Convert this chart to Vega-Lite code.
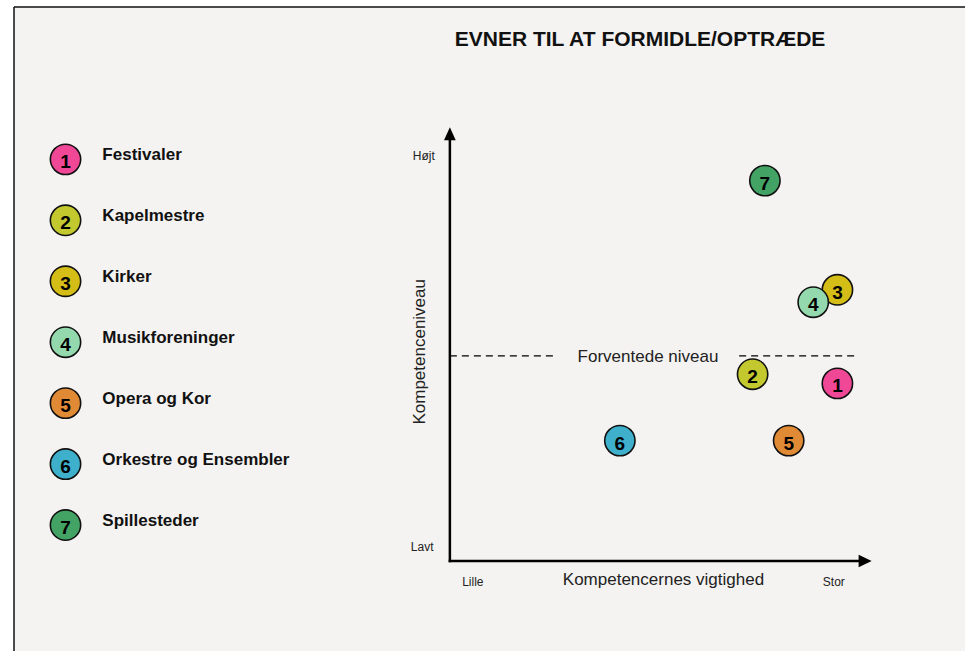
{
  "$schema": "https://vega.github.io/schema/vega-lite/v6.json",
  "width": 951,
  "height": 644,
  "autosize": {"type": "none"},
  "padding": {"left": 14, "top": 7, "right": 0, "bottom": 0},
  "background": "#ffffff",
  "config": {
    "view": {"fill": "#f4f3f1", "stroke": null},
    "font": "Liberation Sans",
    "axis": {"disable": true},
    "text": {"font": "Liberation Sans", "color": "#111111"}
  },
  "data": {"values": [{}]},
  "datasets": {
    "aktorer": [
      {"nr": 1, "navn": "Festivaler", "vigtighed": 9.78, "niveau": 4.44},
      {"nr": 2, "navn": "Kapelmestre", "vigtighed": 7.64, "niveau": 4.67},
      {"nr": 3, "navn": "Kirker", "vigtighed": 9.78, "niveau": 6.78},
      {"nr": 4, "navn": "Musikforeninger", "vigtighed": 9.17, "niveau": 6.47},
      {"nr": 5, "navn": "Opera og Kor", "vigtighed": 8.55, "niveau": 3.01},
      {"nr": 6, "navn": "Orkestre og Ensembler", "vigtighed": 4.29, "niveau": 3.01},
      {"nr": 7, "navn": "Spillesteder", "vigtighed": 7.95, "niveau": 9.51}
    ]
  },
  "layer": [
    {
      "layer": [
        {
          "mark": {"type": "rule", "stroke": "#111111", "strokeWidth": 1.5},
          "encoding": {
            "x": {"datum": -11, "type": "quantitative", "scale": {"domain": [-11, 13], "nice": false, "zero": false}, "axis": null}
          }
        },
        {
          "mark": {"type": "rule", "stroke": "#111111", "strokeWidth": 1.5},
          "encoding": {
            "y": {"datum": 13.85, "type": "quantitative", "scale": {"domain": [-2.25, 13.85], "nice": false, "zero": false}, "axis": null}
          }
        },
        {
          "mark": {"type": "text", "fontSize": 21, "fontWeight": "bold", "align": "center", "baseline": "middle"},
          "encoding": {
            "x": {"datum": 4.8, "type": "quantitative"},
            "y": {"datum": 13.03, "type": "quantitative"},
            "text": {"value": "EVNER TIL AT FORMIDLE/OPTRÆDE"}
          }
        },
        {
          "mark": {"type": "rule", "stroke": "#000000", "strokeWidth": 2.5},
          "encoding": {
            "x": {"datum": 0, "type": "quantitative"},
            "y": {"datum": -0.03, "type": "quantitative"},
            "y2": {"datum": 10.6}
          }
        },
        {
          "mark": {"type": "rule", "stroke": "#000000", "strokeWidth": 2.5},
          "encoding": {
            "x": {"datum": -0.03, "type": "quantitative"},
            "x2": {"datum": 10.4},
            "y": {"datum": 0, "type": "quantitative"}
          }
        },
        {
          "mark": {"type": "point", "shape": "M0,-1L-0.9,1L0.9,1Z", "filled": true, "size": 169, "fill": "#000000", "opacity": 1},
          "encoding": {
            "x": {"datum": 0, "type": "quantitative"},
            "y": {"datum": 10.68, "type": "quantitative"}
          }
        },
        {
          "mark": {"type": "point", "shape": "M1,0L-1,-0.95L-1,0.95Z", "filled": true, "size": 169, "fill": "#000000", "opacity": 1},
          "encoding": {
            "x": {"datum": 10.48, "type": "quantitative"},
            "y": {"datum": 0, "type": "quantitative"}
          }
        },
        {
          "mark": {"type": "rule", "stroke": "#000000", "strokeWidth": 1.2, "strokeDash": [7, 5]},
          "encoding": {
            "x": {"datum": 0, "type": "quantitative"},
            "x2": {"datum": 2.7},
            "y": {"datum": 5.13, "type": "quantitative"}
          }
        },
        {
          "mark": {"type": "rule", "stroke": "#000000", "strokeWidth": 1.2, "strokeDash": [7, 5]},
          "encoding": {
            "x": {"datum": 7.3, "type": "quantitative"},
            "x2": {"datum": 10.27},
            "y": {"datum": 5.13, "type": "quantitative"}
          }
        },
        {
          "mark": {"type": "text", "fontSize": 17, "align": "center", "baseline": "middle", "dy": 1, "color": "#222222"},
          "encoding": {
            "x": {"datum": 5.0, "type": "quantitative"},
            "y": {"datum": 5.13, "type": "quantitative"},
            "text": {"value": "Forventede niveau"}
          }
        },
        {
          "mark": {"type": "text", "fontSize": 17, "align": "center", "baseline": "middle", "dy": 1, "color": "#222222"},
          "encoding": {
            "x": {"datum": 5.39, "type": "quantitative"},
            "y": {"datum": -0.455, "type": "quantitative"},
            "text": {"value": "Kompetencernes vigtighed"}
          }
        },
        {
          "mark": {"type": "text", "fontSize": 17, "align": "center", "baseline": "middle", "angle": 270, "color": "#222222"},
          "encoding": {
            "x": {"datum": -0.755, "type": "quantitative"},
            "y": {"datum": 5.23, "type": "quantitative"},
            "text": {"value": "Kompetenceniveau"}
          }
        },
        {
          "mark": {"type": "text", "fontSize": 12, "align": "center", "baseline": "middle", "dy": 1, "color": "#222222"},
          "encoding": {
            "x": {"datum": -0.66, "type": "quantitative"},
            "y": {"datum": 10.14, "type": "quantitative"},
            "text": {"value": "Højt"}
          }
        },
        {
          "mark": {"type": "text", "fontSize": 12, "align": "center", "baseline": "middle", "dy": 1, "color": "#222222"},
          "encoding": {
            "x": {"datum": -0.7, "type": "quantitative"},
            "y": {"datum": 0.38, "type": "quantitative"},
            "text": {"value": "Lavt"}
          }
        },
        {
          "mark": {"type": "text", "fontSize": 12, "align": "center", "baseline": "middle", "dy": 1, "color": "#222222"},
          "encoding": {
            "x": {"datum": 0.58, "type": "quantitative"},
            "y": {"datum": -0.51, "type": "quantitative"},
            "text": {"value": "Lille"}
          }
        },
        {
          "mark": {"type": "text", "fontSize": 12, "align": "center", "baseline": "middle", "dy": 1, "color": "#222222"},
          "encoding": {
            "x": {"datum": 9.69, "type": "quantitative"},
            "y": {"datum": -0.51, "type": "quantitative"},
            "text": {"value": "Stor"}
          }
        },
        {
          "data": {"name": "aktorer"},
          "mark": {"type": "point", "shape": "circle", "filled": true, "size": 920, "stroke": "#111111", "strokeWidth": 1.6, "opacity": 1},
          "encoding": {
            "x": {"field": "vigtighed", "type": "quantitative"},
            "y": {"field": "niveau", "type": "quantitative"},
            "fill": {
              "field": "navn", "type": "nominal", "legend": null,
              "scale": {
                "domain": ["Festivaler", "Kapelmestre", "Kirker", "Musikforeninger", "Opera og Kor", "Orkestre og Ensembler", "Spillesteder"],
                "range": ["#f04896", "#c2c82e", "#d5bd17", "#93d9ad", "#e08a35", "#3eb0cc", "#43a365"]
              }
            }
          }
        },
        {
          "data": {"name": "aktorer"},
          "mark": {"type": "text", "fontSize": 19, "fontWeight": "bold", "align": "center", "baseline": "middle", "dy": 3, "color": "#000000"},
          "encoding": {
            "x": {"field": "vigtighed", "type": "quantitative"},
            "y": {"field": "niveau", "type": "quantitative"},
            "text": {"field": "nr", "type": "nominal"}
          }
        }
      ]
    },
    {
      "data": {"name": "aktorer"},
      "layer": [
        {
          "mark": {"type": "point", "shape": "circle", "filled": true, "size": 920, "stroke": "#111111", "strokeWidth": 1.6, "opacity": 1},
          "encoding": {
            "x": {"datum": -9.7, "type": "quantitative"},
            "y": {"field": "nr", "type": "quantitative", "scale": {"domain": [-1.5, 9.067], "reverse": true, "nice": false, "zero": false}, "axis": null},
            "fill": {"field": "navn", "type": "nominal", "legend": null}
          }
        },
        {
          "mark": {"type": "text", "fontSize": 19, "fontWeight": "bold", "align": "center", "baseline": "middle", "dy": 3, "color": "#000000"},
          "encoding": {
            "x": {"datum": -9.7, "type": "quantitative"},
            "y": {"field": "nr", "type": "quantitative"},
            "text": {"field": "nr", "type": "nominal"}
          }
        },
        {
          "mark": {"type": "text", "fontSize": 17, "fontWeight": "bold", "align": "left", "baseline": "middle", "dy": -4, "color": "#111111"},
          "encoding": {
            "x": {"datum": -8.77, "type": "quantitative"},
            "y": {"field": "nr", "type": "quantitative"},
            "text": {"field": "navn", "type": "nominal"}
          }
        }
      ]
    }
  ],
  "resolve": {"scale": {"y": "independent"}}
}
